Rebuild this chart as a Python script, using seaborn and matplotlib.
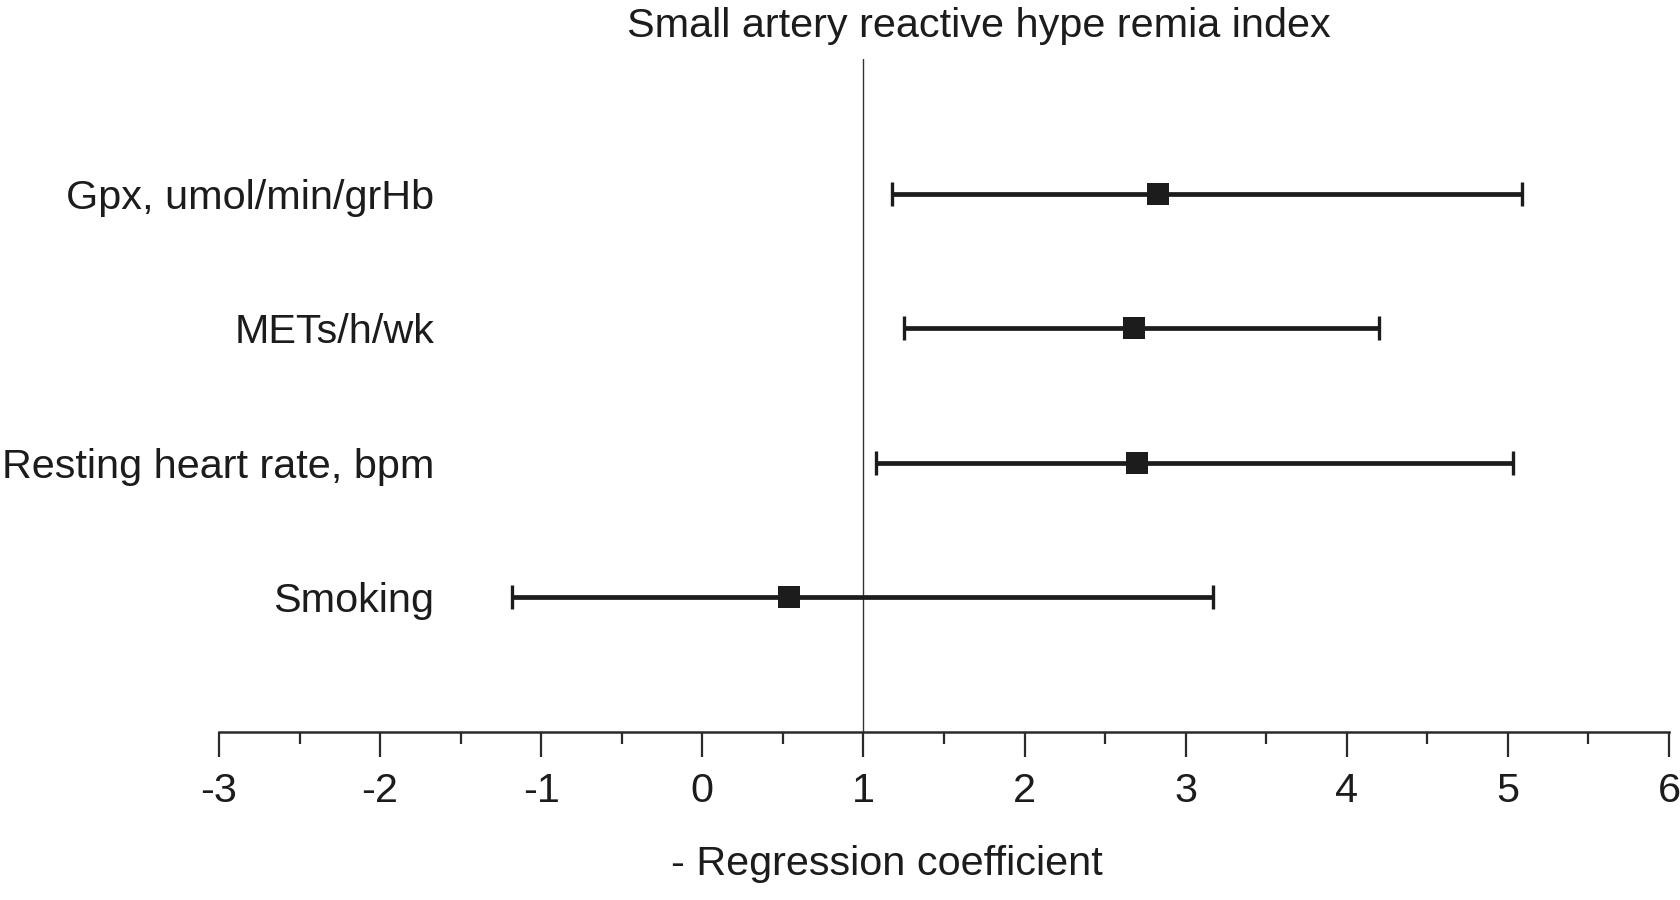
import matplotlib
matplotlib.use("Agg")
import matplotlib.pyplot as plt
from matplotlib.ticker import MultipleLocator
import seaborn as sns
import pandas as pd
import numpy as np

# ---- data ----
categories = ["Gpx, umol/min/grHb", "METs/h/wk", "Resting heart rate, bpm", "Smoking"]
coef = [2.83, 2.68, 2.70, 0.54]
ci_low = [1.18, 1.25, 1.08, -1.18]
ci_high = [5.09, 4.20, 5.03, 3.17]
x_ticks = [-3, -2, -1, 0, 1, 2, 3, 4, 5, 6]
ref_value = 1
title = "Small artery reactive hype remia index"
x_label = "- Regression coefficient"

df = pd.DataFrame({"variable": categories, "coef": coef,
                   "low": ci_low, "high": ci_high})

sns.set_theme(style="white")
plt.rcParams["font.family"] = ["Liberation Sans", "DejaVu Sans"]

ink = "#1c1c1c"
W, H = 1681, 900
fig = plt.figure(figsize=(W / 100, H / 100), dpi=100)
ax = fig.add_axes([219 / W, 1 - 732 / H, 1450 / W, 673 / H])

# reference line
ax.axvline(ref_value, color="#333333", lw=1.0, zorder=1)

# point estimates (categorical y axis via seaborn)
sns.pointplot(data=df, x="coef", y="variable", order=categories,
              linestyle="none", markers="s", markersize=15.5,
              markeredgewidth=0, color=ink, errorbar=None, ax=ax, zorder=4)

# confidence intervals on the same categorical positions
ypos = np.arange(len(categories))
ax.errorbar(df["coef"], ypos,
            xerr=[df["coef"] - df["low"], df["high"] - df["coef"]],
            fmt="none", ecolor=ink, elinewidth=3.4, capsize=8.3,
            capthick=2.4, zorder=3)

ax.set_xlim(x_ticks[0], x_ticks[-1])
ax.set_ylim(len(categories), -1)

# spines
for s in ["left", "top", "right"]:
    ax.spines[s].set_visible(False)
ax.spines["bottom"].set_color("#2a2a2a")
ax.spines["bottom"].set_linewidth(1.8)

# x ticks
ax.set_xticks(x_ticks)
ax.set_xticklabels([str(t) for t in x_ticks])
ax.xaxis.set_minor_locator(MultipleLocator(0.5))
ax.tick_params(axis="x", which="major", direction="out", length=18,
               width=1.6, color="#2a2a2a", pad=11, labelsize=29.8,
               labelcolor=ink, bottom=True)
ax.tick_params(axis="x", which="minor", direction="out", length=8.6,
               width=1.6, color="#2a2a2a", bottom=True)

# y labels drawn inside the axes area, right-aligned
ax.tick_params(axis="y", which="both", length=0, pad=-154.8,
               labelsize=29.8, labelcolor=ink, left=True)
for lab in ax.get_yticklabels():
    lab.set_horizontalalignment("right")
ax.set_ylabel("")

ax.set_xlabel(x_label, fontsize=29.8, color=ink)
ax.xaxis.set_label_coords((887 - 219) / 1450, (732 - 845) / 673)

ax.set_title(title, fontsize=29.8, color=ink, pad=15.8, x=(979 - 219) / 1450)

ax.grid(False)
fig.savefig("out.png", dpi=100, facecolor="white")
